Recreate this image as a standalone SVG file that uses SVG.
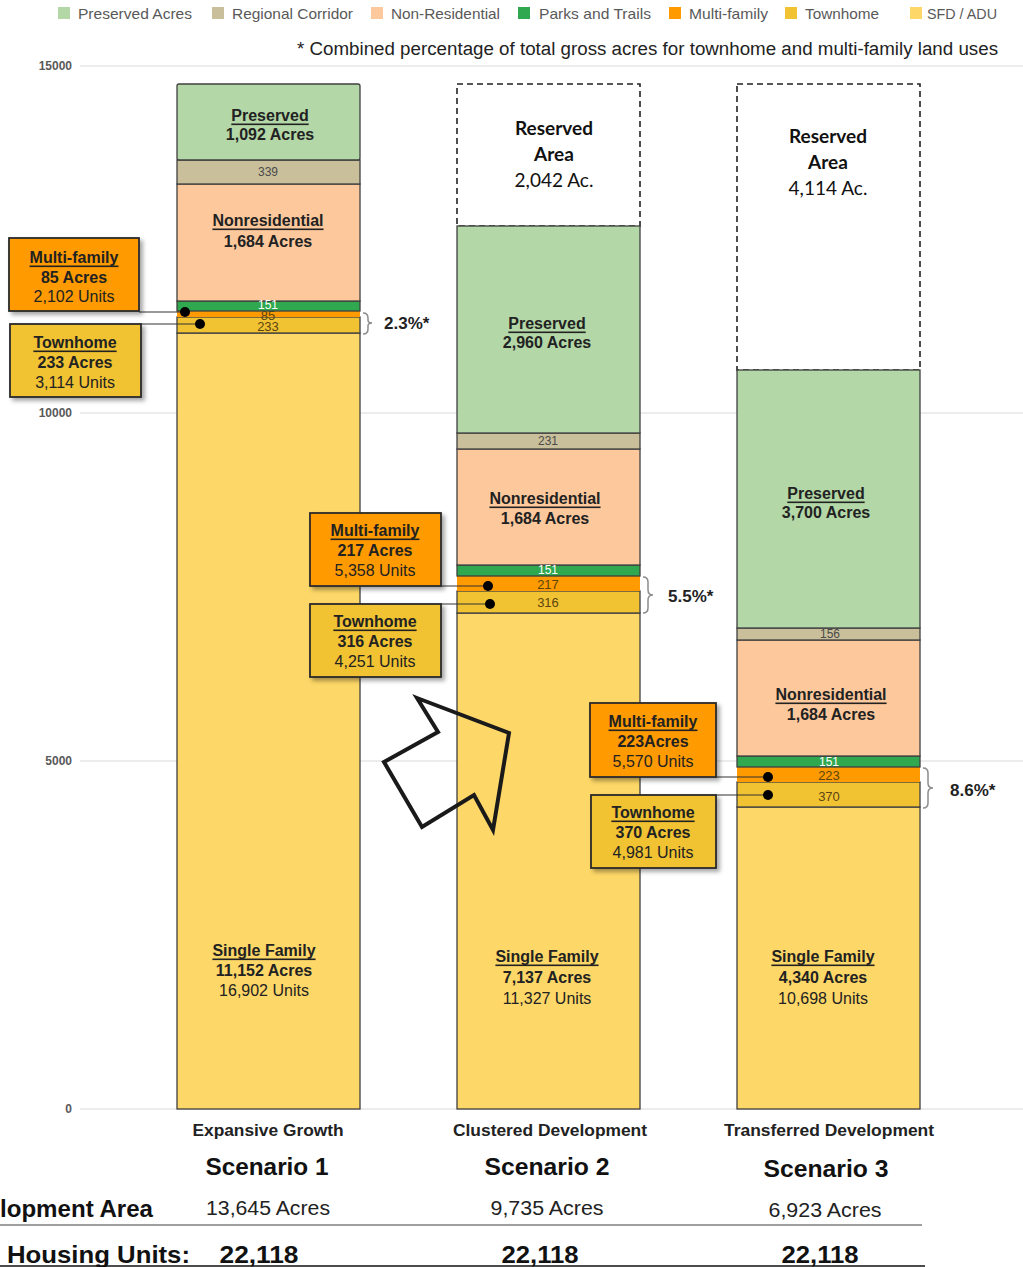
<svg xmlns="http://www.w3.org/2000/svg" width="1023" height="1267" viewBox="0 0 1023 1267">
  <defs>
    <filter id="shadow" x="-10%" y="-10%" width="130%" height="130%">
      <feDropShadow dx="3" dy="3" stdDeviation="2" flood-color="#000" flood-opacity="0.35"/>
    </filter>
  </defs>
  <style>
    text { font-family: "Liberation Sans", Arial, sans-serif; }
    .seg { stroke: #404040; stroke-width: 1.3; }
    .pres { fill: #b3d7a6; }
    .corr { fill: #c9bf9a; }
    .nonres { fill: #fdc99c; }
    .parks { fill: #2fa84f; }
    .mf { fill: #ff9a00; }
    .th { fill: #f1c232; }
    .sf { fill: #fdd767; }
    .reserved { fill: #ffffff; stroke: #222; stroke-width: 1.6; stroke-dasharray: 6 4; }
    .grid { stroke: #d9d9d9; stroke-width: 1.2; }
    .axis { font-size: 12px; font-weight: bold; fill: #595959; text-anchor: end; dominant-baseline: central; }
    .leg { font-size: 15px; fill: #595959; dominant-baseline: central; }
    .head { font-size: 16px; font-weight: bold; fill: #222; text-anchor: middle; dominant-baseline: central; text-decoration: underline; }
    .acres { font-size: 16px; font-weight: bold; fill: #222; text-anchor: middle; dominant-baseline: central; }
    .units { font-size: 16px; fill: #222; text-anchor: middle; dominant-baseline: central; }
    .num { font-size: 12px; fill: #4a4a4a; text-anchor: middle; dominant-baseline: central; }
    .numd { font-size: 13px; fill: #5c4510; text-anchor: middle; dominant-baseline: central; }
    .numw { font-size: 12px; fill: #ffffff; text-anchor: middle; dominant-baseline: central; }
    .res { font-family: Lato, "Liberation Sans", sans-serif; font-size: 19px; fill: #111; text-anchor: middle; dominant-baseline: central; }
    .box { stroke: #2b2b2b; stroke-width: 1.8; filter: url(#shadow); }
    .lead { stroke: #333; stroke-width: 1.2; fill: none; }
    .brace { stroke: #8c8c8c; stroke-width: 1.5; fill: none; }
    .pct { font-size: 17px; font-weight: bold; fill: #222; dominant-baseline: central; }
    .cat { font-size: 16px; font-weight: bold; fill: #222; text-anchor: middle; dominant-baseline: central; }
    .scen { font-size: 23px; font-weight: bold; fill: #111; text-anchor: middle; dominant-baseline: central; }
    .area { font-size: 20px; fill: #222; text-anchor: middle; dominant-baseline: central; }
    .hu { font-size: 24px; font-weight: bold; fill: #111; text-anchor: middle; dominant-baseline: central; }
  </style>

  <rect width="1023" height="1267" fill="#ffffff"/>

  <!-- legend -->
  <g id="legend">
    <rect x="58" y="7" width="12" height="12" class="pres"/>
    <text x="78" y="13" class="leg" textLength="114" lengthAdjust="spacingAndGlyphs">Preserved Acres</text>
    <rect x="212" y="7" width="12" height="12" class="corr"/>
    <text x="232" y="13" class="leg" textLength="121" lengthAdjust="spacingAndGlyphs">Regional Corridor</text>
    <rect x="371" y="7" width="12" height="12" class="nonres"/>
    <text x="391" y="13" class="leg" textLength="109" lengthAdjust="spacingAndGlyphs">Non-Residential</text>
    <rect x="518" y="7" width="12" height="12" class="parks"/>
    <text x="539" y="13" class="leg" textLength="112" lengthAdjust="spacingAndGlyphs">Parks and Trails</text>
    <rect x="669" y="7" width="12" height="12" class="mf"/>
    <text x="689" y="13" class="leg" textLength="79" lengthAdjust="spacingAndGlyphs">Multi-family</text>
    <rect x="785" y="7" width="12" height="12" class="th"/>
    <text x="805" y="13" class="leg" textLength="74" lengthAdjust="spacingAndGlyphs">Townhome</text>
    <rect x="910" y="7" width="12" height="12" class="sf"/>
    <text x="927" y="13" class="leg" textLength="70" lengthAdjust="spacingAndGlyphs">SFD / ADU</text>
  </g>

  <text x="998" y="49" font-size="18" fill="#222" text-anchor="end" dominant-baseline="central" textLength="701" lengthAdjust="spacingAndGlyphs">* Combined percentage of total gross acres for townhome and multi-family land uses</text>

  <!-- value axis -->
  <g id="axis">
    <line x1="80" y1="66" x2="1023" y2="66" class="grid"/>
    <line x1="80" y1="413" x2="1023" y2="413" class="grid"/>
    <line x1="80" y1="761" x2="1023" y2="761" class="grid"/>
    <line x1="80" y1="1109" x2="1023" y2="1109" class="grid" stroke="#bfbfbf"/>
    <text x="72" y="66" class="axis">15000</text>
    <text x="72" y="413" class="axis">10000</text>
    <text x="72" y="761" class="axis">5000</text>
    <text x="72" y="1109" class="axis">0</text>
  </g>

  <!-- Scenario 1 bar -->
  <g id="bar1">
    <rect x="177" y="333" width="183" height="776" class="seg sf"/>
    <rect x="177" y="317" width="183" height="16" class="seg th"/>
    <rect x="177" y="311" width="183" height="6" class="mf" stroke="none"/>
    <!-- the 85 label sits under the parks band, which trims its top -->
    <text x="268" y="315.5" class="numd" font-size="9">85</text>
    <rect x="177" y="301" width="183" height="10" class="seg parks"/>
    <rect x="177" y="184" width="183" height="117" class="seg nonres"/>
    <rect x="177" y="160" width="183" height="24" class="seg corr"/>
    <rect x="177" y="84" width="183" height="76" rx="2" class="seg pres"/>
    <text x="270" y="115" class="head">Preserved</text>
    <text x="270" y="134" class="acres">1,092 Acres</text>
    <text x="268" y="172" class="num">339</text>
    <text x="268" y="220" class="head">Nonresidential</text>
    <text x="268" y="241" class="acres">1,684 Acres</text>
    <text x="268" y="305" class="numw" font-size="10">151</text>
    <text x="268" y="326.5" class="numd" font-size="12">233</text>
    <text x="264" y="950" class="head">Single Family</text>
    <text x="264" y="970" class="acres">11,152 Acres</text>
    <text x="264" y="990" class="units">16,902 Units</text>
  </g>

  <!-- Scenario 2 bar -->
  <g id="bar2">
    <rect x="457" y="84" width="183" height="142" class="reserved"/>
    <rect x="457" y="613" width="183" height="496" class="seg sf"/>
    <rect x="457" y="591" width="183" height="22" class="seg th"/>
    <rect x="457" y="576" width="183" height="15" class="mf" stroke="none"/>
    <rect x="457" y="565" width="183" height="11" class="seg parks"/>
    <rect x="457" y="449" width="183" height="116" class="seg nonres"/>
    <rect x="457" y="433" width="183" height="16" class="seg corr"/>
    <rect x="457" y="226" width="183" height="207" class="seg pres"/>
    <text x="554" y="127" class="res" font-weight="bold">Reserved</text>
    <text x="554" y="153" class="res" font-weight="bold">Area</text>
    <text x="554" y="179" class="res">2,042 Ac.</text>
    <text x="547" y="323" class="head">Preserved</text>
    <text x="547" y="342" class="acres">2,960 Acres</text>
    <text x="548" y="441" class="num">231</text>
    <text x="545" y="498" class="head">Nonresidential</text>
    <text x="545" y="518" class="acres">1,684 Acres</text>
    <text x="548" y="570" class="numw">151</text>
    <text x="548" y="584" class="numd">217</text>
    <text x="548" y="602" class="numd">316</text>
    <text x="547" y="956" class="head">Single Family</text>
    <text x="547" y="977" class="acres" font-size="18">7,137 Acres</text>
    <text x="547" y="998" class="units" font-size="18">11,327 Units</text>
  </g>

  <!-- Scenario 3 bar -->
  <g id="bar3">
    <rect x="737" y="84" width="183" height="286" class="reserved"/>
    <rect x="737" y="807" width="183" height="302" class="seg sf"/>
    <rect x="737" y="782" width="183" height="25" class="seg th"/>
    <rect x="737" y="767" width="183" height="15" class="mf" stroke="none"/>
    <rect x="737" y="756" width="183" height="11" class="seg parks"/>
    <rect x="737" y="640" width="183" height="116" class="seg nonres"/>
    <rect x="737" y="628" width="183" height="12" class="seg corr"/>
    <rect x="737" y="370" width="183" height="258" class="seg pres"/>
    <text x="828" y="135" class="res" font-weight="bold">Reserved</text>
    <text x="828" y="161" class="res" font-weight="bold">Area</text>
    <text x="828" y="187" class="res">4,114 Ac.</text>
    <text x="826" y="493" class="head">Preserved</text>
    <text x="826" y="512" class="acres">3,700 Acres</text>
    <text x="830" y="634" class="num">156</text>
    <text x="831" y="694" class="head">Nonresidential</text>
    <text x="831" y="714" class="acres">1,684 Acres</text>
    <text x="829" y="762" class="numw">151</text>
    <text x="829" y="775" class="numd">223</text>
    <text x="829" y="796" class="numd">370</text>
    <text x="823" y="956" class="head">Single Family</text>
    <text x="823" y="977" class="acres" font-size="18">4,340 Acres</text>
    <text x="823" y="998" class="units" font-size="18">10,698 Units</text>
  </g>

  <!-- callouts, leaders and braces -->
  <g id="connectors">
    <polyline points="139,312 185,312" class="lead"/>
    <polyline points="141,324 200,324" class="lead"/>
    <circle cx="185" cy="312" r="5" fill="#000"/>
    <circle cx="200" cy="324" r="5" fill="#000"/>
    <path d="M363,313 Q368,313 368,318 L368,320 Q368,323 372,323 Q368,323 368,326 L368,329 Q368,334 363,334" class="brace"/>

    <polyline points="441,586 488,586" class="lead"/>
    <polyline points="441,604 490,604" class="lead"/>
    <circle cx="488" cy="586" r="5" fill="#000"/>
    <circle cx="490" cy="604" r="5" fill="#000"/>
    <path d="M643,577 Q648,577 648,582 L648,590 Q648,595 653,595 Q648,595 648,600 L648,608 Q648,613 643,613" class="brace"/>

    <polyline points="716,777 768,777" class="lead"/>
    <polyline points="716,795 768,795" class="lead"/>
    <circle cx="768" cy="777" r="5" fill="#000"/>
    <circle cx="768" cy="795" r="5" fill="#000"/>
    <path d="M923,768 Q928,768 928,773 L928,783 Q928,788 933,788 Q928,788 928,793 L928,803 Q928,808 923,808" class="brace"/>
  </g>

  <g id="callout-mf1">
    <rect x="9" y="238" width="130" height="73" class="box mf"/>
    <text x="74" y="257" class="head">Multi-family</text>
    <text x="74" y="277" class="acres">85 Acres</text>
    <text x="74" y="296" class="units">2,102 Units</text>
  </g>
  <g id="callout-th1">
    <rect x="10" y="324" width="131" height="73" class="box th"/>
    <text x="75" y="342" class="head">Townhome</text>
    <text x="75" y="362" class="acres">233 Acres</text>
    <text x="75" y="382" class="units">3,114 Units</text>
  </g>
  <text id="pct1" x="384" y="323" class="pct">2.3%*</text>

  <g id="callout-mf2">
    <rect x="310" y="513" width="131" height="73" class="box mf"/>
    <text x="375" y="530" class="head">Multi-family</text>
    <text x="375" y="550" class="acres">217 Acres</text>
    <text x="375" y="570" class="units">5,358 Units</text>
  </g>
  <g id="callout-th2">
    <rect x="310" y="604" width="131" height="73" class="box th"/>
    <text x="375" y="621" class="head">Townhome</text>
    <text x="375" y="641" class="acres">316 Acres</text>
    <text x="375" y="661" class="units">4,251 Units</text>
  </g>
  <text id="pct2" x="668" y="596" class="pct">5.5%*</text>

  <g id="callout-mf3">
    <rect x="590" y="703" width="126" height="74" class="box mf"/>
    <text x="653" y="721" class="head">Multi-family</text>
    <text x="653" y="741" class="acres">223Acres</text>
    <text x="653" y="761" class="units">5,570 Units</text>
  </g>
  <g id="callout-th3">
    <rect x="591" y="795" width="125" height="73" class="box th"/>
    <text x="653" y="812" class="head">Townhome</text>
    <text x="653" y="832" class="acres">370 Acres</text>
    <text x="653" y="852" class="units">4,981 Units</text>
  </g>
  <text id="pct3" x="950" y="790" class="pct">8.6%*</text>

  <!-- hollow block arrow -->
  <polygon id="arrow" points="417,698 509,733 493,830 474,795 422,827 384,762 438,732" fill="none" stroke="#1a1a1a" stroke-width="4" stroke-linejoin="miter"/>

  <!-- category and summary rows -->
  <g id="summary">
    <text x="268" y="1130" class="cat" textLength="151" lengthAdjust="spacingAndGlyphs">Expansive Growth</text>
    <text x="550" y="1130" class="cat" textLength="194" lengthAdjust="spacingAndGlyphs">Clustered Development</text>
    <text x="829" y="1130" class="cat" textLength="210" lengthAdjust="spacingAndGlyphs">Transferred Development</text>
    <text x="267" y="1167" class="scen" textLength="123" lengthAdjust="spacingAndGlyphs">Scenario 1</text>
    <text x="547" y="1167" class="scen" textLength="125" lengthAdjust="spacingAndGlyphs">Scenario 2</text>
    <text x="826" y="1169" class="scen" textLength="125" lengthAdjust="spacingAndGlyphs">Scenario 3</text>
    <text x="0" y="1209" font-size="23" font-weight="bold" fill="#111" dominant-baseline="central" textLength="153" lengthAdjust="spacingAndGlyphs">lopment Area</text>
    <text x="268" y="1208" class="area" textLength="124" lengthAdjust="spacingAndGlyphs">13,645 Acres</text>
    <text x="547" y="1208" class="area" textLength="113" lengthAdjust="spacingAndGlyphs">9,735 Acres</text>
    <text x="825" y="1210" class="area" textLength="113" lengthAdjust="spacingAndGlyphs">6,923 Acres</text>
    <line x1="0" y1="1225" x2="922" y2="1225" stroke="#7f7f7f" stroke-width="1.5"/>
    <text x="7" y="1254" font-size="24" font-weight="bold" fill="#111" dominant-baseline="central" textLength="183" lengthAdjust="spacingAndGlyphs">Housing Units:</text>
    <text x="259" y="1254" class="hu" textLength="79" lengthAdjust="spacingAndGlyphs">22,118</text>
    <text x="540" y="1254" class="hu" textLength="77" lengthAdjust="spacingAndGlyphs">22,118</text>
    <text x="820" y="1254" class="hu" textLength="77" lengthAdjust="spacingAndGlyphs">22,118</text>
    <line x1="0" y1="1266" x2="925" y2="1266" stroke="#111" stroke-width="1.5"/>
  </g>
</svg>
